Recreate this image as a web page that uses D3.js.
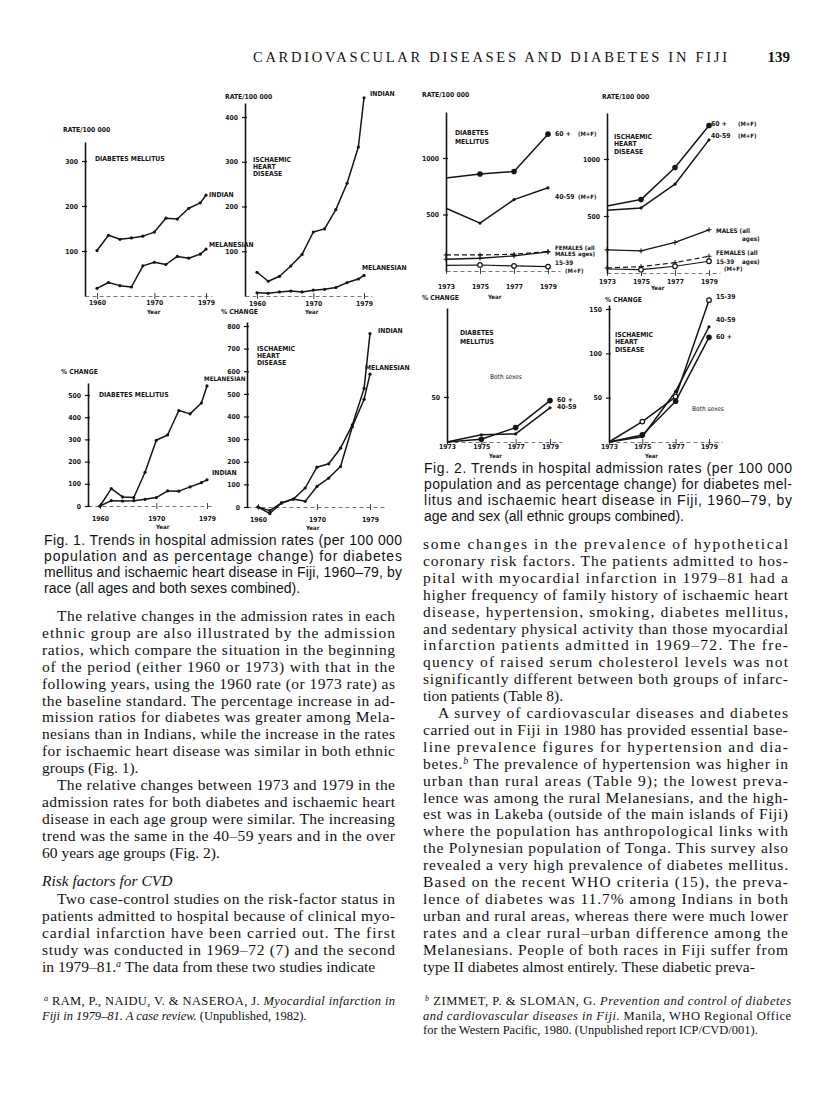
<!DOCTYPE html>
<html><head><meta charset="utf-8">
<script src="https://cdn.jsdelivr.net/npm/d3@7"></script>
<style>body{margin:0;background:#fff}svg{display:block}</style>
</head><body>
<script>
// ================= DATA =================
const fig1Years = [1960,1962,1964,1966,1968,1970,1972,1974,1976,1978,1979];
const diabRateIndian     = [101,135,126,129,133,142,173,171,195,207,224];
const diabRateMelanesian = [17,30,23,20,67,75,70,88,84,93,104];
const ihdRateIndian      = [53,33,44,67,93,143,150,193,252,333,443];
const ihdRateMelanesian  = [7,6,9,11,9,13,15,19,30,38,46];
const diabPctIndian      = [0,24,22,24,30,38,68,67,86,105,118];
const diabPctMelanesian  = [0,78,41,38,152,296,320,430,415,464,541];
const ihdPctIndian       = [0,-16,18,35,84,176,191,260,363,524,766];
const ihdPctMelanesian   = [0,-29,18,35,25,91,128,179,355,476,587];

const fig2Years = [1973,1975,1977,1979];
const diabRate60      = [822,858,881,1211];
const diabRate4059    = [555,424,632,736];
const diabRateFemales = [142,142,148,172];
const diabRateMales   = [104,113,134,169];
const diabRate1539    = [50,53,45,39];
const ihdRate60       = [588,644,926,1294];
const ihdRate4059     = [550,571,779,1168];
const ihdRateMales    = [203,194,268,379];
const ihdRateFemales  = [44,56,91,147];
const ihdRate1539     = [35,29,59,103];
const diabPct60       = [0,3,16,46];
const diabPct4059     = [0,8,9,38];
const ihdPct1539      = [0,23,51,160];
const ihdPct4059      = [0,6,57,130];
const ihdPct60        = [0,8,46,118];

const fig1YearTicks   = [1960,1970,1979];
const fig2YearTicks   = [1973,1975,1977,1979];
const fig1DiabRateTicks = [100,200,300];
const fig1IhdRateTicks  = [100,200,300,400];
const fig1DiabPctTicks  = [0,100,200,300,400,500];
const fig1IhdPctTicks   = [0,100,200,300,400,500,600,700,800];
const fig2RateTicks     = [500,1000];
const fig2DiabPctTicks  = [50];
const fig2IhdPctTicks   = [50,100,150];

const headerText = "CARDIOVASCULAR DISEASES AND DIABETES IN FIJI";
const pageNumber = "139";
const fig1Caption = [
 "Fig. 1. Trends in hospital admission rates (per 100 000",
 "population and as percentage change) for diabetes",
 "mellitus and ischaemic heart disease in Fiji, 1960–79, by",
 "race (all ages and both sexes combined)."];
const fig2Caption = [
 "Fig. 2. Trends in hospital admission rates (per 100 000",
 "population and as percentage change) for diabetes mel-",
 "litus and ischaemic heart disease in Fiji, 1960–79, by",
 "age and sex (all ethnic groups combined)."];
const leftPara1 = [
 "The relative changes in the admission rates in each",
 "ethnic group are also illustrated by the admission",
 "ratios, which compare the situation in the beginning",
 "of the period (either 1960 or 1973) with that in the",
 "following years, using the 1960 rate (or 1973 rate) as",
 "the baseline standard. The percentage increase in ad-",
 "mission ratios for diabetes was greater among Mela-",
 "nesians than in Indians, while the increase in the rates",
 "for ischaemic heart disease was similar in both ethnic",
 "groups (Fig. 1)."];
const leftPara2 = [
 "The relative changes between 1973 and 1979 in the",
 "admission rates for both diabetes and ischaemic heart",
 "disease in each age group were similar. The increasing",
 "trend was the same in the 40–59 years and in the over",
 "60 years age groups (Fig. 2)."];
const leftHeading = "Risk factors for CVD";
const leftPara3 = [
 "Two case-control studies on the risk-factor status in",
 "patients admitted to hospital because of clinical myo-",
 "cardial infarction have been carried out. The first",
 "study was conducted in 1969–72 (7) and the second",
 "in 1979–81.^a^ The data from these two studies indicate"];
const rightPara1 = [
 "some changes in the prevalence of hypothetical",
 "coronary risk factors. The patients admitted to hos-",
 "pital with myocardial infarction in 1979–81 had a",
 "higher frequency of family history of ischaemic heart",
 "disease, hypertension, smoking, diabetes mellitus,",
 "and sedentary physical activity than those myocardial",
 "infarction patients admitted in 1969–72. The fre-",
 "quency of raised serum cholesterol levels was not",
 "significantly different between both groups of infarc-",
 "tion patients (Table 8)."];
const rightPara2 = [
 "A survey of cardiovascular diseases and diabetes",
 "carried out in Fiji in 1980 has provided essential base-",
 "line prevalence figures for hypertension and dia-",
 "betes.^b^ The prevalence of hypertension was higher in",
 "urban than rural areas (Table 9); the lowest preva-",
 "lence was among the rural Melanesians, and the high-",
 "est was in Lakeba (outside of the main islands of Fiji)",
 "where the population has anthropological links with",
 "the Polynesian population of Tonga. This survey also",
 "revealed a very high prevalence of diabetes mellitus.",
 "Based on the recent WHO criteria (15), the preva-",
 "lence of diabetes was 11.7% among Indians in both",
 "urban and rural areas, whereas there were much lower",
 "rates and a clear rural–urban difference among the",
 "Melanesians. People of both races in Fiji suffer from",
 "type II diabetes almost entirely. These diabetic preva-"];
const leftFootnote = [
 "^a^ RAM, P., NAIDU, V. & NASEROA, J. *Myocardial infarction in*",
 "*Fiji in 1979–81. A case review.* (Unpublished, 1982)."];
const rightFootnote = [
 "^b^ ZIMMET, P. & SLOMAN, G. *Prevention and control of diabetes*",
 "*and cardiovascular diseases in Fiji.* Manila, WHO Regional Office",
 "for the Western Pacific, 1980. (Unpublished report ICP/CVD/001)."];

// ================= DRAWING =================
const W = 816, H = 1111;
const svg = d3.select("body").append("svg").attr("width", W).attr("height", H);
svg.append("rect").attr("width", W).attr("height", H).attr("fill", "#fff");

const LBL = "'DejaVu Sans Condensed','DejaVu Sans',sans-serif";
const SERIF = "'Liberation Serif','DejaVu Serif',serif";
const SANS = "'Liberation Sans','Arimo',sans-serif";
const INK = "#151515";

function label(t, x, y, o = {}) {
  svg.append("text").attr("x", x).attr("y", y).attr("dy", "0.35em").text(t)
    .attr("font-family", LBL).attr("font-size", o.size || 6.8)
    .attr("font-weight", o.weight || "bold").attr("fill", INK)
    .attr("text-anchor", o.anchor || "start");
}

function panel(p) {
  const x = d3.scaleLinear().domain(p.xDomain).range(p.xRange);
  const y = d3.scaleLinear().domain(p.yDomain).range(p.yRange);
  const g = svg.append("g");
  const xExt = x.copy().domain([x.invert(p.axisX), x.invert(p.xAxisEnd)]).range([p.axisX, p.xAxisEnd]);
  const xa = g.append("g").attr("transform", `translate(0,${p.xAxisY})`)
    .call(d3.axisBottom(xExt).tickValues(p.xTicks).tickSize(0).tickPadding(p.xPad).tickFormat(d3.format("d")));
  xa.select(".domain").attr("stroke", "#777").attr("stroke-width", 1.1).attr("stroke-dasharray", "4,3");
  xa.selectAll("text").attr("font-family", LBL).attr("font-size", 6.8).attr("font-weight", "bold").attr("fill", INK);
  xa.selectAll(".tick").append("line").attr("y1", -3).attr("y2", 3).attr("stroke", "#444").attr("stroke-width", 1);
  const yExt = y.copy().domain([y.invert(p.axisBottom), y.invert(p.axisTop)]).range([p.axisBottom, p.axisTop]);
  const ya = g.append("g").attr("transform", `translate(${p.axisX},0)`)
    .call(d3.axisLeft(yExt).tickValues(p.yTicks).tickSizeInner(3).tickSizeOuter(0).tickPadding(4).tickFormat(d3.format("d")));
  ya.select(".domain").attr("stroke", INK).attr("stroke-width", 1.6);
  ya.selectAll(".tick line").attr("x2", -3).attr("x1", 2).attr("stroke", INK).attr("stroke-width", 1.2);
  ya.selectAll("text").attr("font-family", LBL).attr("font-size", 6.8).attr("font-weight", "bold").attr("fill", INK);
  const line = d3.line().x(d => x(d[0])).y(d => y(d[1]));
  p.series.forEach(s => {
    const pts = p.years.map((yr, i) => [yr, s.values[i]]);
    g.append("path").attr("d", line(pts)).attr("fill", "none").attr("stroke", INK)
      .attr("stroke-width", s.width || 1.5).attr("stroke-dasharray", s.dash || null)
      .attr("stroke-linejoin", "round");
    const mk = g.selectAll(null).data(pts.slice(s.skipFirst ? 1 : 0)).enter();
    if (s.marker === "filled") mk.append("circle").attr("cx", d => x(d[0])).attr("cy", d => y(d[1])).attr("r", 2.8).attr("fill", INK);
    if (s.marker === "dot") mk.append("circle").attr("cx", d => x(d[0])).attr("cy", d => y(d[1])).attr("r", 1.6).attr("fill", INK);
    if (s.marker === "open") mk.append("circle").attr("cx", d => x(d[0])).attr("cy", d => y(d[1])).attr("r", 2.3).attr("fill", "#fff").attr("stroke", INK).attr("stroke-width", 1.2);
    if (s.marker === "plus") mk.append("path").attr("d", d => `M${x(d[0]) - 2.5},${y(d[1])}h5M${x(d[0])},${y(d[1]) - 2.5}v5`).attr("stroke", INK).attr("stroke-width", 1);
  });
}

// ---- Fig. 1 ----
panel({ xDomain:[1960,1979], xRange:[97,206], yDomain:[0,300], yRange:[296,161],
  axisX:85, axisTop:142, axisBottom:296, xAxisY:296, xAxisEnd:212, xPad:4,
  xTicks:fig1YearTicks, yTicks:fig1DiabRateTicks, years:fig1Years,
  series:[{values:diabRateIndian, marker:"dot"},{values:diabRateMelanesian, marker:"dot"}]});
panel({ xDomain:[1960,1979], xRange:[257,364], yDomain:[0,400], yRange:[296,117],
  axisX:245, axisTop:103, axisBottom:296, xAxisY:296, xAxisEnd:372, xPad:5,
  xTicks:fig1YearTicks, yTicks:fig1IhdRateTicks, years:fig1Years,
  series:[{values:ihdRateIndian, marker:"dot"},{values:ihdRateMelanesian, marker:"dot"}]});
panel({ xDomain:[1960,1979], xRange:[100,207], yDomain:[0,500], yRange:[506,395],
  axisX:88, axisTop:383, axisBottom:506, xAxisY:506, xAxisEnd:212, xPad:10,
  xTicks:fig1YearTicks, yTicks:fig1DiabPctTicks, years:fig1Years,
  series:[{values:diabPctIndian, marker:"dot"},{values:diabPctMelanesian, marker:"dot"}]});
panel({ xDomain:[1960,1979], xRange:[258,370], yDomain:[0,800], yRange:[507,326],
  axisX:247, axisTop:322, axisBottom:507, xAxisY:507, xAxisEnd:385, xPad:10,
  xTicks:fig1YearTicks, yTicks:fig1IhdPctTicks, years:fig1Years,
  series:[{values:ihdPctIndian, marker:"dot"},{values:ihdPctMelanesian, marker:"dot"}]});

// ---- Fig. 2 ----
panel({ xDomain:[1973,1979], xRange:[446,548], yDomain:[0,1000], yRange:[271,158],
  axisX:446, axisTop:112, axisBottom:271, xAxisY:271, xAxisEnd:560, xPad:13,
  xTicks:fig2YearTicks, yTicks:fig2RateTicks, years:fig2Years,
  series:[{values:diabRate60, marker:"filled", skipFirst:true},
          {values:diabRate4059, marker:"dot", skipFirst:true},
          {values:diabRateFemales, marker:"plus", dash:"5,3", width:1.2},
          {values:diabRateMales, marker:"plus", width:1.3},
          {values:diabRate1539, marker:"open", skipFirst:true, width:1.2}]});
panel({ xDomain:[1973,1979], xRange:[607,709], yDomain:[0,1000], yRange:[273,159],
  axisX:607, axisTop:113, axisBottom:273, xAxisY:273, xAxisEnd:720, xPad:6,
  xTicks:fig2YearTicks, yTicks:fig2RateTicks, years:fig2Years,
  series:[{values:ihdRate60, marker:"filled", skipFirst:true},
          {values:ihdRate4059, marker:"dot", skipFirst:true},
          {values:ihdRateMales, marker:"plus", width:1.3},
          {values:ihdRateFemales, marker:"plus", dash:"5,3", width:1.2},
          {values:ihdRate1539, marker:"open", skipFirst:true, width:1.2}]});
panel({ xDomain:[1973,1979], xRange:[447,550], yDomain:[0,50], yRange:[442,397],
  axisX:447, axisTop:308, axisBottom:442, xAxisY:442, xAxisEnd:562, xPad:2,
  xTicks:fig2YearTicks, yTicks:fig2DiabPctTicks, years:fig2Years,
  series:[{values:diabPct60, marker:"filled", skipFirst:true},
          {values:diabPct4059, marker:"dot", skipFirst:true}]});
panel({ xDomain:[1973,1979], xRange:[609,709], yDomain:[0,150], yRange:[442,309],
  axisX:609, axisTop:305, axisBottom:442, xAxisY:442, xAxisEnd:722, xPad:2,
  xTicks:fig2YearTicks, yTicks:fig2IhdPctTicks, years:fig2Years,
  series:[{values:ihdPct1539, marker:"open", skipFirst:true},
          {values:ihdPct4059, marker:"dot", skipFirst:true},
          {values:ihdPct60, marker:"filled", skipFirst:true}]});

// ---- chart annotations ----
[
 ["RATE/100 000",63,130],["DIABETES MELLITUS",95,159],["INDIAN",209,195],["MELANESIAN",209,245],["Year",147,312,{size:6}],
 ["RATE/100 000",225,97],["ISCHAEMIC",253,160],["HEART",253,167],["DISEASE",253,174],["INDIAN",370,94],["MELANESIAN",362,268],["Year",305,312,{size:6}],
 ["% CHANGE",61,372],["DIABETES MELLITUS",99,395],["MELANESIAN",204,379,{size:6.3}],["INDIAN",212,473],["Year",156,527,{size:6}],
 ["% CHANGE",221,312],["ISCHAEMIC",257,349],["HEART",257,356],["DISEASE",257,363],["INDIAN",378,331],["MELANESIAN",365,368],["Year",306,528,{size:6}],
 ["RATE/100 000",422,95],["DIABETES",455,133],["MELLITUS",455,142],
 ["60 +",555,134],["(M+F)",578,134,{size:6}],["40-59",555,197],["(M+F)",578,197,{size:6}],
 ["FEMALES (all",555,248,{size:6}],["MALES",555,254,{size:6}],["ages)",578,254,{size:6}],["15-39",555,263,{size:6.3}],["(M+F)",565,271,{size:6}],["Year",488,297,{size:6}],
 ["RATE/100 000",602,97],["ISCHAEMIC",614,137],["HEART",614,144],["DISEASE",614,152],
 ["60 +",711,124],["(M+F)",738,124,{size:6}],["40-59",711,136],["(M+F)",738,136,{size:6}],
 ["MALES (all",716,231,{size:6.3}],["ages)",742,239,{size:6.3}],["FEMALES (all",716,253,{size:6.3}],["15-39",716,262,{size:6.3}],["ages)",742,262,{size:6.3}],["(M+F)",724,269,{size:6}],["Year",651,288,{size:6}],
 ["% CHANGE",422,298],["DIABETES",460,333],["MELLITUS",460,342],["Both sexes",490,377,{size:6.5,weight:"normal"}],["60 +",557,400],["40-59",557,407],["Year",489,456,{size:5.8}],
 ["% CHANGE",605,300],["ISCHAEMIC",615,335],["HEART",615,342],["DISEASE",615,350],["15-39",716,297],["40-59",716,320],["60 +",716,337],["Both sexes",692,409,{size:6.5,weight:"normal"}],["Year",645,456,{size:5.8}]
].forEach(a => label(a[0], a[1], a[2], a[3] || {}));

// ================= TEXT =================
function richText(sel, str, baseSize) {
  const parts = str.split(/(\*|\^[a-z]\^)/);
  let italic = false;
  parts.forEach(pt => {
    if (pt === "*") { italic = !italic; return; }
    if (!pt) return;
    const m = pt.match(/^\^([a-z])\^$/);
    if (m) {
      sel.append("tspan").text(m[1]).attr("font-style", "italic")
        .attr("font-size", baseSize * 0.65).attr("baseline-shift", "super");
      return;
    }
    sel.append("tspan").text(pt).attr("font-style", italic ? "italic" : "normal");
  });
}
function block(lines, o) {
  lines.forEach((ln, i) => {
    const last = i === lines.length - 1;
    const indent = (i === 0 && o.indent) ? o.indent : 0;
    const t = svg.append("text").attr("x", o.x + indent).attr("y", o.y + i * o.lh)
      .attr("font-family", o.family).attr("font-size", o.size).attr("fill", "#111");
    if (!last) t.attr("textLength", o.width - indent).attr("lengthAdjust", "spacing");
    richText(t, ln, o.size);
  });
}

svg.append("text").attr("x", 253).attr("y", 62).text(headerText)
  .attr("font-family", SERIF).attr("font-size", 14.5).attr("fill", "#111")
  .attr("textLength", 474).attr("lengthAdjust", "spacing");
svg.append("text").attr("x", 790).attr("y", 62).text(pageNumber).attr("text-anchor", "end")
  .attr("font-family", SERIF).attr("font-size", 15).attr("font-weight", "bold").attr("fill", "#111");

const L = 16.9, BODY = 15.5;
block(fig2Caption, {x:424, y:473, lh:16, width:368, size:14, family:SANS});
block(fig1Caption, {x:44, y:545, lh:16, width:358, size:14, family:SANS});

// right column
const rightStart = 549;
block(rightPara1, {x:423, y:rightStart, lh:L, width:365, size:BODY, family:SERIF});
block(rightPara2, {x:423, y:rightStart + 10 * L, lh:L, width:365, size:BODY, family:SERIF, indent:15});
block(rightFootnote, {x:423, y:1005, lh:14.5, width:368, size:12.5, family:SERIF, indent:2});

// left column
const leftLastY = rightStart + 25 * L;
const p3Start = leftLastY - 4 * L;
const p1Start = 593 + 28;
const p2End = p1Start + 14 * L;
const headY = (p2End + p3Start) / 2 + 5;
block(leftPara1, {x:42, y:p1Start, lh:L, width:353, size:BODY, family:SERIF, indent:15});
block(leftPara2, {x:42, y:p1Start + 10 * L, lh:L, width:353, size:BODY, family:SERIF, indent:15});
svg.append("text").attr("x", 42).attr("y", headY).text(leftHeading)
  .attr("font-family", SERIF).attr("font-size", 15.5).attr("font-style", "italic").attr("fill", "#111");
block(leftPara3, {x:42, y:p3Start, lh:L, width:353, size:BODY, family:SERIF, indent:15});
block(leftFootnote, {x:42, y:1005, lh:14.5, width:353, size:12.5, family:SERIF, indent:2});
</script>
</body></html>
